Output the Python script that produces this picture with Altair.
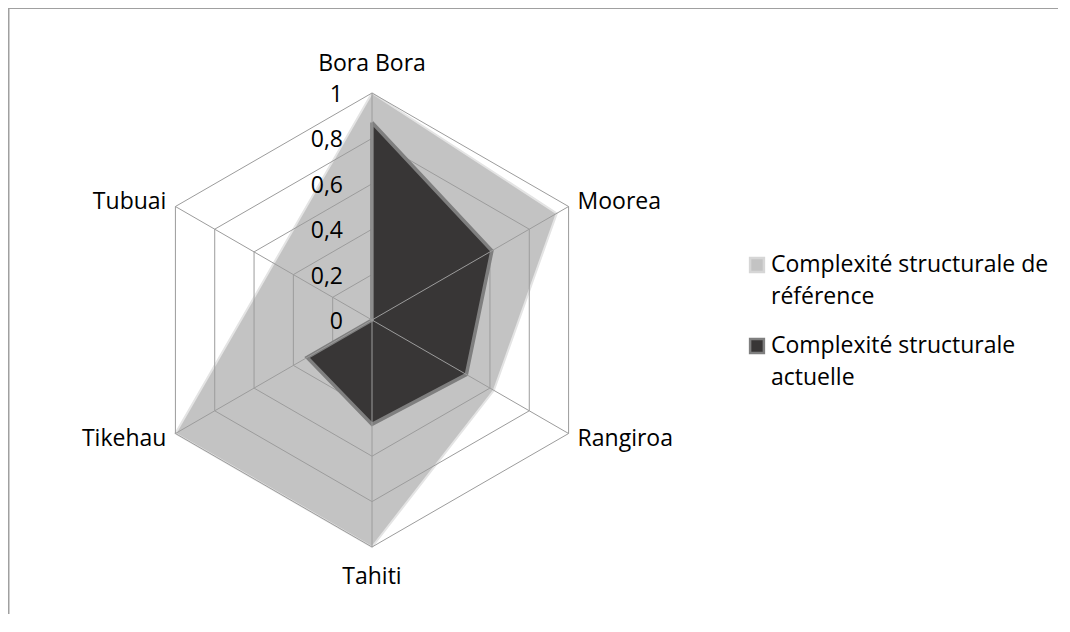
import math
import altair as alt
import pandas as pd

# ---------------- data ----------------
categories = ["Bora Bora", "Moorea", "Rangiroa", "Tahiti", "Tikehau", "Tubuai"]
ref_values = [1.0, 0.94, 0.62, 1.0, 1.0, 0.5]
cur_values = [0.87, 0.61, 0.48, 0.46, 0.33, 0.0]
series_names = ["Complexité structurale de référence", "Complexité structurale actuelle"]
legend_lines = [["Complexité structurale de", "référence"], ["Complexité structurale", "actuelle"]]
grid_levels = [0.2, 0.4, 0.6, 0.8, 1.0]
tick_values = [0, 0.2, 0.4, 0.6, 0.8, 1.0]
tick_labels = ["0", "0,2", "0,4", "0,6", "0,8", "1"]

# ---------------- layout ----------------
W, H = 1050, 603
OX, OY = 8, 11            # page position of plot origin
CX, CY = 372, 320         # page position of radar centre
R = 227.0                 # pixels per unit radius
pcx, pcy = CX - OX, CY - OY
xdom = [-pcx / R, (W - pcx) / R]
ydom = [(pcy - H) / R, pcy / R]

FONT = "Open Sans"
FS = 23
n = len(categories)

# ---------------- tables ----------------
rows = []
for s, vals in zip(series_names, [ref_values, cur_values]):
    for i in range(n + 1):
        rows.append({"series": s, "idx": i, "category": categories[i % n], "value": vals[i % n]})
series_df = pd.DataFrame(rows)

ring_rows = []
for lv in grid_levels:
    for i in range(n + 1):
        ring_rows.append({"level": lv, "idx": i, "value": lv})
ring_df = pd.DataFrame(ring_rows)

spoke_df = pd.DataFrame({"idx": list(range(n)), "category": categories, "value": [1.0] * n})
tick_df = pd.DataFrame({"value": tick_values, "label": tick_labels})

xs = alt.Scale(domain=xdom, nice=False, zero=False)
ys = alt.Scale(domain=ydom, nice=False, zero=False)


def polar(ch):
    return ch.transform_calculate(
        ang="datum.idx * PI / 3",
    ).transform_calculate(
        px="datum.value * sin(datum.ang)",
        py="datum.value * cos(datum.ang)",
    )


X = alt.X("px:Q", scale=xs, axis=None)
Y = alt.Y("py:Q", scale=ys, axis=None)

ref_poly = polar(
    alt.Chart(series_df).transform_filter(alt.datum.series == series_names[0])
).mark_line(fill="#c3c3c3", stroke="#e4e4e4", strokeWidth=2, clip=False).encode(
    x=X, y=Y, order="idx:Q"
)

cur_poly = polar(
    alt.Chart(series_df).transform_filter(alt.datum.series == series_names[1])
).mark_line(fill="#383636", stroke="#7f7f7f", strokeWidth=3.5, clip=False).encode(
    x=X, y=Y, order="idx:Q"
)

rings = polar(alt.Chart(ring_df)).mark_line(stroke="#9c9c9c", strokeWidth=1).encode(
    x=X, y=Y, order="idx:Q", detail="level:N"
)

spokes = polar(alt.Chart(spoke_df)).transform_calculate(zero="0").mark_rule(
    stroke="#9c9c9c", strokeWidth=1
).encode(
    x=alt.X("zero:Q", scale=xs, axis=None),
    y=alt.Y("zero:Q", scale=ys, axis=None),
    x2="px:Q",
    y2="py:Q",
)

ticks = alt.Chart(tick_df).transform_calculate(zero="0").mark_text(
    align="right", baseline="middle", dx=-29, dy=2, font=FONT, fontSize=FS, color="#000000"
).encode(
    x=alt.X("zero:Q", scale=xs, axis=None),
    y=alt.Y("value:Q", scale=ys, axis=None),
    text="label:N",
)


def cat_layer(names, align, dx, dy):
    return polar(
        alt.Chart(spoke_df).transform_filter(alt.FieldOneOfPredicate(field="category", oneOf=names))
    ).mark_text(
        align=align, baseline="middle", dx=dx, dy=dy, font=FONT, fontSize=FS, color="#000000"
    ).encode(x=X, y=Y, text="category:N")


lab_top = cat_layer(["Bora Bora"], "center", 0, -29)
lab_bot = cat_layer(["Tahiti"], "center", 0, 30)
lab_ru = cat_layer(["Moorea"], "left", 9, -5)
lab_rd = cat_layer(["Rangiroa"], "left", 9, 5)
lab_lu = cat_layer(["Tubuai"], "right", -9, -5)
lab_ld = cat_layer(["Tikehau"], "right", -9, 5)

one = alt.Data(values=[{}])
frame_top = alt.Chart(one).mark_rule(stroke="#a0a0a0", strokeWidth=2).encode(
    x=alt.value(0), x2=alt.value(W), y=alt.value(-3)
)
frame_left = alt.Chart(one).mark_rule(stroke="#a0a0a0", strokeWidth=2).encode(
    x=alt.value(0.5), y=alt.value(-3), y2=alt.value(H)
)

legend_layers = []
leg_sq_y = [265, 346]
leg_txt_y = [265, 346]
leg_fill = ["#c3c3c3", "#383636"]
leg_stroke = ["#d6d6d6", "#7f7f7f"]
for k in range(2):
    legend_layers.append(
        alt.Chart(one).mark_square(
            size=190, fill=leg_fill[k], stroke=leg_stroke[k], strokeWidth=2.5, opacity=1
        ).encode(x=alt.value(757 - OX), y=alt.value(leg_sq_y[k] - OY))
    )
    legend_layers.append(
        alt.Chart(one).mark_text(
            align="left", baseline="middle", font=FONT, fontSize=FS, lineHeight=32, color="#000000"
        ).encode(x=alt.value(771 - OX), y=alt.value(leg_txt_y[k] - OY), text=alt.value(legend_lines[k]))
    )

chart = alt.layer(
    frame_top, frame_left,
    ref_poly, rings, cur_poly, spokes, ticks,
    lab_top, lab_bot, lab_ru, lab_rd, lab_lu, lab_ld,
    *legend_layers,
).properties(
    width=W, height=H,
    autosize=alt.AutoSizeParams(type="none"),
    padding={"left": 0, "top": 3, "right": 0, "bottom": 0},
    background="#ffffff",
).configure_view(stroke="transparent")

chart.save("out.html", embed_options={"renderer": "svg", "actions": False})
